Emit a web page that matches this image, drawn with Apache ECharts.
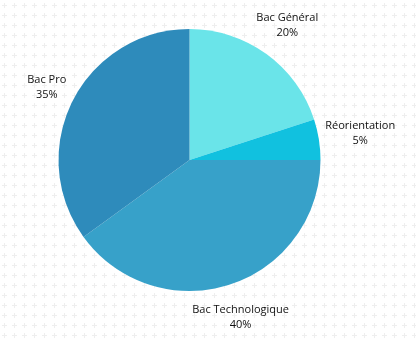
<!DOCTYPE html>
<html><head><meta charset="utf-8">
<script src="https://cdn.jsdelivr.net/npm/echarts@6/dist/echarts.min.js"></script>
<style>
html,body{margin:0;padding:0;width:416px;height:338px;overflow:hidden;
background-color:#fff;
background-image:url("data:image/svg+xml;utf8,<svg xmlns='http://www.w3.org/2000/svg' width='10' height='10'><rect x='4' y='3' width='1' height='5' fill='%23eeeeee'/><rect x='2' y='5' width='5' height='1' fill='%23eeeeee'/></svg>");
background-position:0 0;}
#c{width:416px;height:338px;}
</style></head><body><div id="c"></div>
<script>
const categories = ['Bac Général', 'Réorientation', 'Bac Technologique', 'Bac Pro'];
const values = [20, 5, 40, 35];
const colors = ['#6ae4e9', '#11c1df', '#37a1c9', '#2e8bbb'];

const CX = 189.5, CY = 160, R = 131, GAP = 5;
const chart = echarts.init(document.getElementById('c'), null, {renderer: 'canvas'});
chart.setOption({
  backgroundColor: 'transparent',
  animation: false,
  series: [{
    type: 'pie',
    center: [CX, CY],
    radius: [0, R],
    startAngle: 90,
    clockwise: true,
    avoidLabelOverlap: false,
    itemStyle: {borderWidth: 0},
    emphasis: {disabled: true},
    data: categories.map((c, i) => ({name: c, value: values[i], itemStyle: {color: colors[i]}})),
    label: {
      show: true,
      position: 'inside',
      formatter: '{a|{b}}\n{a|{d}%}',
      color: '#111',
      fontFamily: 'Open Sans',
      fontSize: 11,
      lineHeight: 15,
      rich: {a: {align: 'center', color: '#111', fontFamily: 'Open Sans', fontSize: 11, lineHeight: 15}}
    },
    labelLine: {show: false},
    labelLayout: function (p) {
      const r = p.labelRect;
      const lx = r.x + r.width / 2, ly = r.y + r.height / 2;
      let nx = lx - CX, ny = ly - CY;
      const len = Math.sqrt(nx * nx + ny * ny) || 1;
      nx /= len; ny /= len;
      const h = Math.abs(nx) * r.width / 2 + Math.abs(ny) * r.height / 2;
      const d = R + GAP + h;
      return {x: CX + nx * d, y: CY + ny * d, align: 'center', verticalAlign: 'middle'};
    }
  }]
});
</script></body></html>
